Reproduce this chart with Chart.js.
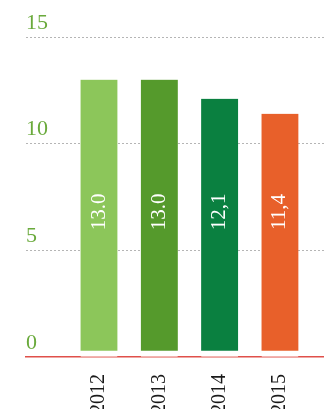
<!DOCTYPE html>
<html>
<head>
<meta charset="utf-8">
<script src="https://cdn.jsdelivr.net/npm/chart.js@4/dist/chart.umd.min.js"></script>
<style>
  html, body { margin: 0; padding: 0; background: #fff; }
  #wrap { width: 324px; height: 409px; }
</style>
</head>
<body>
<div id="wrap"><canvas id="chart" width="324" height="409"></canvas></div>
<script>
// Datos
const years = [2012, 2013, 2014, 2015];
const values = [13.0, 13.0, 12.1, 11.4];
const valueLabels = ['13.0', '13.0', '12,1', '11,4'];
const yTicks = [0, 5, 10, 15];
const barColors = ['#8cc65a', '#559a2c', '#0a8040', '#e8602a'];

const serif = '"Liberation Serif", "DejaVu Serif", serif';

// Etiquetas de valor verticales dentro de las barras
const valueLabelPlugin = {
  id: 'valueLabels',
  afterDatasetsDraw(chart) {
    const ctx = chart.ctx;
    const yScale = chart.scales.y;
    const meta = chart.getDatasetMeta(0);
    ctx.save();
    ctx.fillStyle = '#ffffff';
    ctx.font = '21px ' + serif;
    ctx.textAlign = 'center';
    ctx.textBaseline = 'middle';
    meta.data.forEach(function(bar, i) {
      ctx.save();
      ctx.translate(bar.x, yScale.getPixelForValue(6.8));
      ctx.rotate(-Math.PI / 2);
      ctx.fillText(valueLabels[i], 0, 0);
      ctx.restore();
    });
    ctx.restore();
  }
};

const ctx1 = document.getElementById('chart').getContext('2d');
const chart = new Chart(ctx1, {
  type: 'bar',
  data: {
    datasets: [{
      data: years.map((y, i) => ({ x: y, y: values[i] })),
      backgroundColor: barColors,
      borderColor: '#ffffff',
      borderWidth: { top: 0, left: 0, right: 0, bottom: 6 },
      borderSkipped: false,
      barThickness: 37
    }]
  },
  options: {
    responsive: false,
    animation: false,
    layout: { padding: { left: 26, right: 0, top: 37, bottom: 0 } },
    plugins: { legend: { display: false }, tooltip: { enabled: false } },
    scales: {
      x: {
        type: 'linear',
        offset: false,
        min: 2010.79,
        max: 2015.73,
        z: 1,
        grid: { display: false },
        border: { display: true, color: '#e0504a', width: 1.5 },
        afterBuildTicks: function(scale) {
          scale.ticks = years.map(v => ({ value: v }));
        },
        afterFit: function(scale) { scale.height = 52; },
        ticks: {
          minRotation: 90,
          maxRotation: 90,
          padding: 9,
          color: '#1a1a1a',
          font: { family: serif, size: 20 },
          callback: function(value) { return String(value); }
        }
      },
      y: {
        min: 0,
        max: 15,
        afterBuildTicks: function(scale) {
          scale.ticks = yTicks.map(v => ({ value: v }));
        },
        border: { display: false, dash: [2, 2] },
        grid: {
          drawTicks: false,
          color: function(c) { return c.tick && c.tick.value === 0 ? 'rgba(0,0,0,0)' : '#b5b5b5'; },
          lineWidth: 1
        },
        ticks: {
          mirror: true,
          padding: 0,
          labelOffset: -14,
          color: '#6aaa3c',
          font: { family: serif, size: 22 }
        }
      }
    }
  },
  plugins: [valueLabelPlugin]
});
</script>
</body>
</html>
